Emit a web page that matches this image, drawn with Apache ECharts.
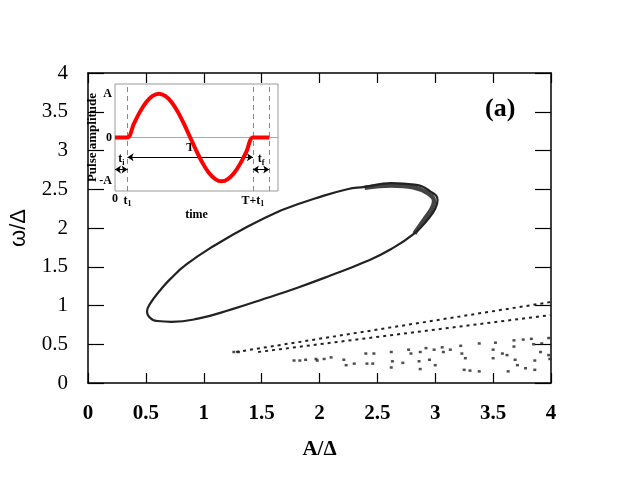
<!DOCTYPE html>
<html>
<head>
<meta charset="utf-8">
<script src="https://cdn.jsdelivr.net/npm/echarts@6/dist/echarts.min.js"></script>
<style>
	html, body { margin: 0; padding: 0; background: #fff; }
	#chart { width: 640px; height: 480px; }
</style>
</head>
<body>
<div id="chart"></div>
<script>
	// main panel: closed orbit (x = A/Delta, y = omega/Delta)
	var orbitX = [1.67, 1.96, 2.24, 2.39, 2.62, 2.82, 2.96, 3.02, 3.00, 2.93, 2.82, 2.62, 2.39, 2.10,
		1.81, 1.53, 1.24, 0.95, 0.72, 0.60, 0.53, 0.51, 0.54, 0.62, 0.71, 0.85, 1.10, 1.38, 1.67];
	var orbitY = [2.23, 2.38, 2.50, 2.53, 2.58, 2.56, 2.47, 2.36, 2.25, 2.10, 1.93, 1.73, 1.56, 1.39,
		1.23, 1.09, 0.95, 0.83, 0.79, 0.80, 0.85, 0.92, 1.03, 1.19, 1.34, 1.53, 1.78, 2.02, 2.23];
	// inner edge of the thick band near the tip
	var tipX = [2.39, 2.62, 2.81, 2.935, 2.99, 2.97, 2.905, 2.82];
	var tipY = [2.52, 2.55, 2.525, 2.45, 2.35, 2.25, 2.11, 1.93];

	// two dotted branches
	var branch1X = [1.28, 4.0];
	var branch1Y = [0.40, 1.045];
	var branch2X = [1.47, 4.0];
	var branch2Y = [0.40, 0.877];

	// scattered points below the branches
	var dotsX = [1.26, 1.30, 1.78, 1.83, 1.88, 1.97, 1.98, 2.04, 2.10, 2.21, 2.23, 2.30, 2.40, 2.47, 2.41, 2.46,
		2.62, 2.63, 2.62, 2.72, 2.77, 2.79, 2.87, 2.86, 2.87, 2.95, 3.00, 2.92, 2.99, 3.06, 3.07, 3.13,
		3.22, 3.23, 3.26, 3.25, 3.30, 3.38, 3.38, 3.52, 3.50, 3.50, 3.58, 3.62, 3.68, 3.68, 3.69, 3.63,
		3.71, 3.76, 3.83, 3.92, 3.85, 3.91, 3.86, 3.78, 3.86, 3.98, 3.99, 3.98];
	var dotsY = [0.40, 0.40, 0.29, 0.29, 0.30, 0.31, 0.29, 0.31, 0.33, 0.30, 0.23, 0.25, 0.38, 0.38, 0.25, 0.25,
		0.40, 0.28, 0.20, 0.26, 0.43, 0.38, 0.40, 0.28, 0.18, 0.30, 0.23, 0.45, 0.43, 0.46, 0.40, 0.43,
		0.48, 0.38, 0.32, 0.17, 0.16, 0.15, 0.51, 0.52, 0.43, 0.32, 0.38, 0.36, 0.55, 0.47, 0.30, 0.15,
		0.23, 0.56, 0.57, 0.51, 0.50, 0.40, 0.29, 0.19, 0.17, 0.36, 0.31, 0.58];

	// inset: pulse amplitude vs time (t1 = 1, T = 10)
	var pulseT = [0, 1, 1.5, 2, 2.5, 3, 3.5, 4, 4.5, 5, 5.5, 6, 6.5, 7, 7.5, 8, 8.5, 9, 9.5, 10, 10.5, 11, 12.3];
	var pulseA = [0, 0, 0.31, 0.59, 0.81, 0.95, 1, 0.95, 0.81, 0.59, 0.31, 0, -0.31, -0.59, -0.81, -0.95, -1,
		-0.95, -0.81, -0.59, -0.31, 0, 0];
	var insetTimeTicks = [0, 1, 11];
	var insetTimeLabels = ['0', '{t|t}{s|1}', 'T+{t|t}{s|1}'];
	var insetAmpTicks = [-1, 0, 1];
	var insetAmpLabels = ['-A', '0', 'A'];
	var markTimes = [1, 11, 12.3];

	function zip(xs, ys) {
		var out = [];
		for (var i = 0; i < xs.length; i++) out.push([xs[i], ys[i]]);
		return out;
	}

	var serif = 'Liberation Serif';
	var subRich = {
		t: { fontFamily: serif, fontWeight: 'bold', fontSize: 12, color: '#000' },
		s: { fontFamily: serif, fontWeight: 'bold', fontSize: 8, color: '#000', padding: [7, 0, 0, 0] }
	};

	var mainAxisCommon = {
		type: 'value', min: 0, max: 4, interval: 0.5,
		axisLine: { show: true, onZero: false, lineStyle: { color: '#000', width: 1.5 } },
		axisTick: { show: true, inside: true, lineStyle: { color: '#000', width: 1.2 } },
		splitLine: { show: false }
	};

	var myChart = echarts.init(document.getElementById('chart'));
	var option = {
		animation: false,
		backgroundColor: '#fff',
		grid: [
			{ left: 86, right: 89, top: 73, bottom: 97 },
			{ left: 115, top: 84, width: 163, height: 107, show: true, backgroundColor: '#fff',
				borderColor: '#999', borderWidth: 1 }
		],
		xAxis: [
			echarts.util.merge({
				gridIndex: 0, position: 'bottom',
				axisTick: { length: 10 },
				axisLabel: { margin: 20, fontFamily: serif, fontWeight: 'bold', fontSize: 21, color: '#000' },
				name: 'A/Δ', nameLocation: 'middle', nameGap: 56,
				nameTextStyle: { fontFamily: serif, fontWeight: 'bold', fontSize: 21, color: '#000' }
			}, mainAxisCommon, true),
			echarts.util.merge({
				gridIndex: 0, position: 'top',
				axisTick: { length: 10 },
				axisLabel: { show: false }
			}, mainAxisCommon, true),
			{
				gridIndex: 1, type: 'value', min: 0, max: 13,
				axisLine: { show: false },
				axisTick: { show: false },
				splitLine: { show: false },
				axisLabel: {
					customValues: insetTimeTicks, margin: 2,
					fontFamily: serif, fontWeight: 'bold', fontSize: 12, color: '#000',
					formatter: function(v) {
						var i = insetTimeTicks.indexOf(v);
						return i < 0 ? '' : insetTimeLabels[i];
					},
					rich: subRich
				},
				name: 'time', nameLocation: 'middle', nameGap: 14,
				nameTextStyle: { fontFamily: serif, fontWeight: 'bold', fontSize: 12, color: '#000' }
			}
		],
		yAxis: [
			echarts.util.merge({
				gridIndex: 0, position: 'left',
				axisTick: { length: 16 },
				axisLabel: { margin: 20, fontFamily: serif, fontSize: 21, color: '#000' },
				name: 'ω/Δ', nameLocation: 'middle', nameGap: 58,
				nameTextStyle: { fontFamily: 'Liberation Sans', fontSize: 22, color: '#000' }
			}, mainAxisCommon, true),
			echarts.util.merge({
				gridIndex: 0, position: 'right',
				axisTick: { length: 16 },
				axisLabel: { show: false }
			}, mainAxisCommon, true),
			{
				gridIndex: 1, type: 'value', min: -1.22, max: 1.22,
				axisLine: { show: false },
				axisTick: { show: false },
				splitLine: { show: false },
				axisLabel: {
					customValues: insetAmpTicks, margin: 3,
					fontFamily: serif, fontWeight: 'bold', fontSize: 12, color: '#000',
					formatter: function(v) {
						var i = insetAmpTicks.indexOf(v);
						return i < 0 ? '' : insetAmpLabels[i];
					}
				},
				name: 'Pulse amplitude', nameLocation: 'middle', nameGap: 16, nameMoveOverlap: false,
				nameTextStyle: { fontFamily: serif, fontWeight: 'bold', fontSize: 13, color: '#000' }
			}
		],
		graphic: [{
			type: 'text', left: 485, top: 96,
			style: { text: '(a)', fontFamily: serif, fontWeight: 'bold', fontSize: 26, fill: '#000' }
		}],
		series: [
			{
				type: 'line', xAxisIndex: 0, yAxisIndex: 0, data: zip(tipX, tipY),
				smooth: 0.4, symbol: 'none', lineStyle: { color: '#444', width: 4.5 }
			},
			{
				type: 'line', xAxisIndex: 0, yAxisIndex: 0, data: zip(orbitX, orbitY),
				smooth: 0.5, symbol: 'none', lineStyle: { color: '#222', width: 2.2 }
			},
			{
				type: 'line', xAxisIndex: 0, yAxisIndex: 0, data: zip(branch1X, branch1Y),
				symbol: 'none', lineStyle: { color: '#222', width: 2, type: [3, 4] }
			},
			{
				type: 'line', xAxisIndex: 0, yAxisIndex: 0, data: zip(branch2X, branch2Y),
				symbol: 'none', lineStyle: { color: '#222', width: 2, type: [3, 4] }
			},
			{
				type: 'scatter', xAxisIndex: 0, yAxisIndex: 0, data: zip(dotsX, dotsY),
				symbol: 'rect', symbolSize: [3, 2.5], itemStyle: { color: '#222' }
			},
			{
				type: 'line', xAxisIndex: 2, yAxisIndex: 2, data: zip(pulseT, pulseA),
				smooth: 0.3, symbol: 'none', lineStyle: { color: '#ff0000', width: 4 }, z: 5,
				markLine: {
					silent: true, symbol: 'none', animation: false,
					label: { show: false },
					data: markTimes.map(function(t) {
						return [{ coord: [t, -1.22], lineStyle: { color: '#888', type: [5, 4], width: 1 } },
							{ coord: [t, 1.22] }];
					}).concat([[
						{ coord: [0, 0], lineStyle: { color: '#aaa', type: 'solid', width: 1 } },
						{ coord: [13, 0] }
					]])
				}
			},
			{
				type: 'line', xAxisIndex: 2, yAxisIndex: 2, data: [], symbol: 'none',
				markLine: {
					silent: true, symbol: ['arrow', 'arrow'], symbolSize: 6, animation: false,
					lineStyle: { color: '#000', type: 'solid', width: 1 },
					label: { show: true, position: 'middle', distance: 3, color: '#000',
						fontFamily: serif, fontWeight: 'bold', fontSize: 12, rich: subRich },
					data: [
						[{ coord: [1, -0.45], label: { formatter: 'T' } }, { coord: [11, -0.45] }],
						[{ coord: [0, -0.73], label: { formatter: '{t|t}{s|i}' } }, { coord: [1, -0.73] }],
						[{ coord: [11, -0.73], label: { formatter: '{t|t}{s|f}' } }, { coord: [12.3, -0.73] }]
					]
				}
			}
		]
	};
	myChart.setOption(option);
</script>
</body>
</html>
